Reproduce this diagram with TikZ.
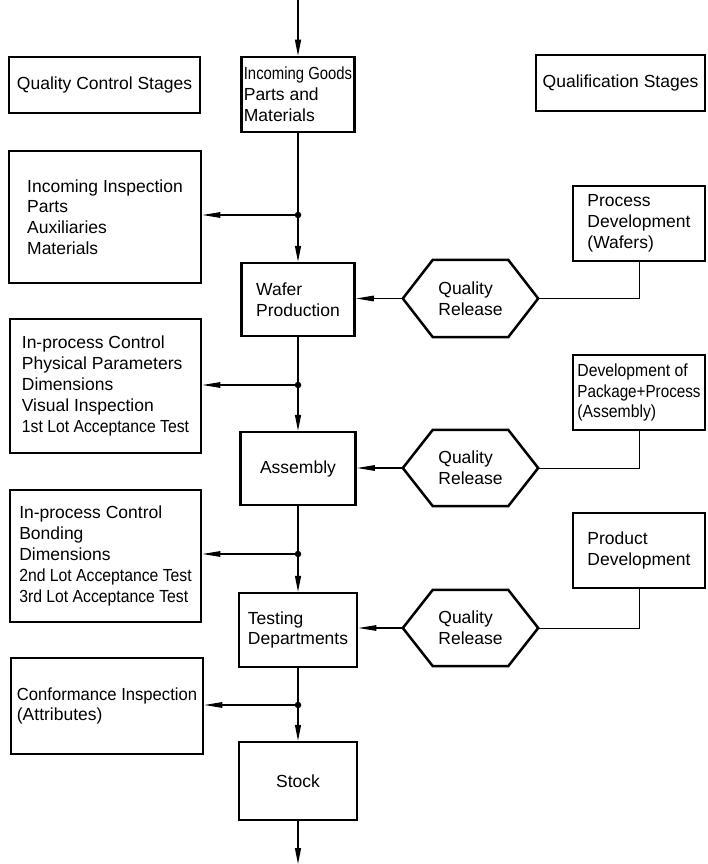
\documentclass[tikz,border=0pt]{standalone}
\usepackage{fontspec}
\setmainfont{Liberation Sans}
\usetikzlibrary{arrows.meta}
\newcommand{\narrow}[2]{{\addfontfeature{FakeStretch=#1}#2}}
\begin{document}
\begin{tikzpicture}[x=1pt,y=-1pt,
  font=\fontsize{17.5}{20.8}\selectfont,
  box/.style={draw, line width=2.5pt, inner sep=0pt, align=left},
  cbox/.style={draw, line width=2.5pt, inner sep=0pt, align=center},
  hexa/.style={inner sep=0pt, minimum width=135pt, align=left},
  dot/.style={circle, fill, inner sep=0pt, minimum size=6.5pt},
  flow/.style={line width=1.3pt},
  arr/.style={line width=1.3pt, -{Triangle[length=16pt,width=6pt]}},
  harr/.style={line width=1.3pt, -{Triangle[length=18pt,width=5.5pt]}},
  thin/.style={line width=1pt}
]
\useasboundingbox (0,0) rectangle (707,864);

% headers
\node[cbox, minimum width=191pt, minimum height=56pt] (qcs) at (104.5,85) {Quality Control Stages};
\node[cbox, minimum width=169pt, minimum height=56pt] (qs) at (620.5,83) {Qualification Stages};

% main column
\node[box, minimum width=113pt, minimum height=75pt] (ig) at (298,94.5) {\narrow{0.85}{Incoming Goods}\\Parts and\\Materials};
\node[box, minimum width=113pt, minimum height=73pt] (wp) at (298,299.5) {Wafer\\Production};
\node[cbox, minimum width=115pt, minimum height=73pt] (as) at (298,468.5) {Assembly};
\node[box, minimum width=118pt, minimum height=74pt] (td) at (298,630) {Testing\\Departments};
\node[cbox, minimum width=118pt, minimum height=78pt] (st) at (298,781) {Stock};

% left column
\node[box, minimum width=192pt, minimum height=132pt] (ii) at (105,217) {Incoming Inspection\\Parts\\Auxiliaries\\Materials};
\node[box, minimum width=191pt, minimum height=134pt] (ip1) at (105.5,386) {In-process Control\\Physical Parameters\\Dimensions\\Visual Inspection\\\narrow{0.9}{1st Lot Acceptance Test}};
\node[box, minimum width=191pt, minimum height=132pt] (ip2) at (105.5,556) {In-process Control\\Bonding\\Dimensions\\\narrow{0.9}{2nd Lot Acceptance Test}\\\narrow{0.9}{3rd Lot Acceptance Test}};
\node[box, minimum width=192pt, minimum height=96pt] (ci) at (107,706) {\narrow{0.95}{Conformance Inspection}\\(Attributes)};

% right column
\node[box, minimum width=132pt, minimum height=75pt] (pd) at (639,223.5) {Process\\Development\\(Wafers)};
\node[box, minimum width=132pt, minimum height=75pt] (dp) at (639,392.5) {\narrow{0.9}{Development of}\\\narrow{0.87}{Package+Process}\\\narrow{0.9}{(Assembly)}};
\node[box, minimum width=132pt, minimum height=75pt] (prd) at (639,550.5) {Product\\Development};

% hexagons
\node[hexa, minimum height=77pt] (h1) at (470.5,298.5) {Quality\\Release};
\node[hexa, minimum height=76pt] (h2) at (470.5,468) {Quality\\Release};
\node[hexa, minimum height=76pt] (h3) at (470.5,628) {Quality\\Release};
\foreach \h in {h1,h2,h3}
  \draw[line width=2.5pt, line join=miter] (\h.west) -- ([xshift=30pt]\h.north west) -- ([xshift=-30pt]\h.north east) -- (\h.east) -- ([xshift=-30pt]\h.south east) -- ([xshift=30pt]\h.south west) -- cycle;

% junctions
\node[dot] (j1) at (298,215) {};
\node[dot] (j2) at (298,385) {};
\node[dot] (j3) at (298,554) {};
\node[dot] (j4) at (298,705) {};
\coordinate (top) at (298,0);
\coordinate (bot) at (298,864);

% main flow
\draw[arr] (top) -- (ig.north);
\draw[flow] (ig.south) -- (j1);
\draw[arr] (j1) -- (wp.north);
\draw[harr] (j1) -- (j1 -| ii.east);
\draw[flow] (wp.south) -- (j2);
\draw[arr] (j2) -- (as.north);
\draw[harr] (j2) -- (j2 -| ip1.east);
\draw[flow] (as.south) -- (j3);
\draw[arr] (j3) -- (td.north);
\draw[harr] (j3) -- (j3 -| ip2.east);
\draw[flow] (td.south) -- (j4);
\draw[arr] (j4) -- (st.north);
\draw[harr] (j4) -- (j4 -| ci.east);
\draw[arr] (st.south) -- (bot);

% qualification releases
\draw[harr] (h1.west) -- (h1.west -| wp.east);
\draw[harr] (h2.west) -- (h2.west -| as.east);
\draw[harr] (h3.west) -- (h3.west -| td.east);
\draw[thin] (h1.east) -| (pd.south);
\draw[thin] (h2.east) -| (dp.south);
\draw[thin] (h3.east) -| (prd.south);
\end{tikzpicture}
\end{document}
